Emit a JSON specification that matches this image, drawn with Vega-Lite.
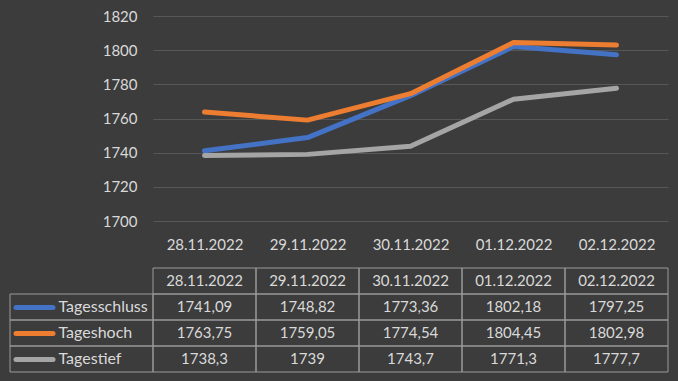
{
  "$schema": "https://vega.github.io/schema/vega-lite/v6.json",
  "background": "#3c3c3c",
  "padding": {"left": 9, "top": 9, "right": 11, "bottom": 8},
  "bounds": "flush",
  "columns": 2,
  "spacing": {"row": 47, "column": 0},
  "datasets": {
    "prices": [
      {"date": "28.11.2022", "series": "Tagesschluss", "value": 1741.09},
      {"date": "29.11.2022", "series": "Tagesschluss", "value": 1748.82},
      {"date": "30.11.2022", "series": "Tagesschluss", "value": 1773.36},
      {"date": "01.12.2022", "series": "Tagesschluss", "value": 1802.18},
      {"date": "02.12.2022", "series": "Tagesschluss", "value": 1797.25},
      {"date": "28.11.2022", "series": "Tageshoch", "value": 1763.75},
      {"date": "29.11.2022", "series": "Tageshoch", "value": 1759.05},
      {"date": "30.11.2022", "series": "Tageshoch", "value": 1774.54},
      {"date": "01.12.2022", "series": "Tageshoch", "value": 1804.45},
      {"date": "02.12.2022", "series": "Tageshoch", "value": 1802.98},
      {"date": "28.11.2022", "series": "Tagestief", "value": 1738.3},
      {"date": "29.11.2022", "series": "Tagestief", "value": 1739},
      {"date": "30.11.2022", "series": "Tagestief", "value": 1743.7},
      {"date": "01.12.2022", "series": "Tagestief", "value": 1771.3},
      {"date": "02.12.2022", "series": "Tagestief", "value": 1777.7}
    ]
  },
  "config": {
    "locale": {"number": {"decimal": ",", "thousands": ".", "grouping": [3], "currency": ["", " €"]}},
    "view": {"stroke": null},
    "font": "Lato",
    "axis": {"labelFont": "Lato", "labelFontSize": 15, "labelColor": "#d9d9d9", "title": null}
  },
  "concat": [
    {
      "width": 143,
      "height": 205,
      "data": {"values": [{"a": 1}]},
      "mark": {"type": "point", "opacity": 0},
      "encoding": {}
    },
    {
      "width": 515,
      "height": 205,
      "data": {"name": "prices"},
      "mark": {"type": "line", "strokeWidth": 5, "strokeCap": "round", "strokeJoin": "round"},
      "encoding": {
        "x": {
          "field": "date", "type": "ordinal", "sort": null,
          "scale": {"type": "point", "padding": 0.5},
          "axis": {"labelAngle": 0, "domain": false, "ticks": false, "labelPadding": 16, "grid": false}
        },
        "y": {
          "field": "value", "type": "quantitative",
          "scale": {"domain": [1700, 1820], "nice": false, "zero": false},
          "axis": {"values": [1700, 1720, 1740, 1760, 1780, 1800, 1820], "format": "d", "domain": false, "ticks": false, "labelPadding": 16, "grid": true, "gridColor": "#575757", "gridWidth": 1}
        },
        "color": {
          "field": "series", "type": "nominal",
          "scale": {"domain": ["Tagesschluss", "Tageshoch", "Tagestief"], "range": ["#4472c4", "#ed7d31", "#a5a5a5"]},
          "legend": null
        }
      }
    },
    {
      "width": 143,
      "height": 104,
      "data": {"name": "prices"},
      "transform": [{"filter": "datum.date === '28.11.2022'"}],
      "mark": {"type": "rect", "fill": "transparent", "stroke": "#9a9a9a", "strokeWidth": 1},
      "encoding": {
        "y": {
          "field": "series", "type": "nominal", "sort": null,
          "scale": {"domain": ["Datum", "Tagesschluss", "Tageshoch", "Tagestief"], "paddingInner": 0, "paddingOuter": 0},
          "axis": {
            "values": ["Tagesschluss", "Tageshoch", "Tagestief"],
            "domain": false, "grid": false, "offset": -5.5,
            "tickSize": -37, "tickWidth": 5, "tickCap": "round",
            "tickColor": {"condition": [{"test": "datum.value === 'Tagesschluss'", "value": "#4472c4"}, {"test": "datum.value === 'Tageshoch'", "value": "#ed7d31"}], "value": "#a5a5a5"},
            "labelAlign": "left", "labelPadding": -5.5, "labelFontSize": 16
          }
        }
      }
    },
    {
      "width": 515,
      "height": 104,
      "data": {"name": "prices"},
      "encoding": {
        "x": {"field": "date", "type": "ordinal", "sort": null, "scale": {"type": "band", "paddingInner": 0, "paddingOuter": 0}, "axis": null}
      },
      "layer": [
        {
          "mark": {"type": "rect", "fill": "transparent", "stroke": "#9a9a9a", "strokeWidth": 1},
          "encoding": {
            "y": {"field": "series", "type": "nominal", "scale": {"domain": ["Datum", "Tagesschluss", "Tageshoch", "Tagestief"], "paddingInner": 0, "paddingOuter": 0}, "axis": null}
          }
        },
        {
          "transform": [{"filter": "datum.series === 'Tagesschluss'"}],
          "mark": {"type": "rect", "fill": "transparent", "stroke": "#9a9a9a", "strokeWidth": 1},
          "encoding": {"y": {"datum": "Datum", "type": "nominal"}}
        },
        {
          "mark": {"type": "text", "fontSize": 15, "font": "Lato", "color": "#d9d9d9"},
          "encoding": {
            "y": {"field": "series", "type": "nominal"},
            "text": {"field": "value", "type": "quantitative", "format": ".2~f"}
          }
        },
        {
          "transform": [{"filter": "datum.series === 'Tagesschluss'"}],
          "mark": {"type": "text", "fontSize": 15, "font": "Lato", "color": "#d9d9d9"},
          "encoding": {
            "y": {"datum": "Datum", "type": "nominal"},
            "text": {"field": "date", "type": "nominal"}
          }
        }
      ]
    }
  ]
}
